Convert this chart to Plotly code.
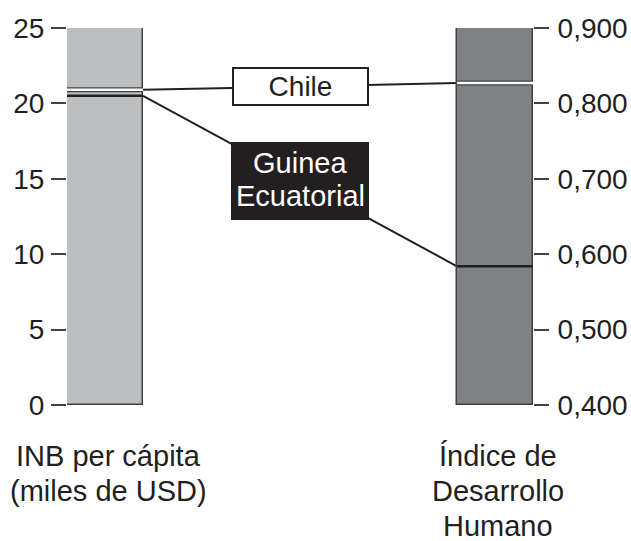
import plotly.graph_objects as go

# ---- data ----
countries = ["Chile", "Guinea Ecuatorial"]
inb = [20.9, 20.5]          # INB per cápita (miles de USD)
idh = [0.827, 0.584]        # Índice de Desarrollo Humano
left_range = [0, 25]
right_range = [0.4, 0.9]
left_ticks = [0, 5, 10, 15, 20, 25]
right_ticks = [0.4, 0.5, 0.6, 0.7, 0.8, 0.9]
left_label_lines = ["INB per cápita", "(miles de USD)"]
right_label_lines = ["Índice de", "Desarrollo", "Humano"]
guinea_lines = ["Guinea", "Ecuatorial"]

DARK = "#231f20"
FONT = "Liberation Sans, Arial, sans-serif"
w = 0.195  # bar width (x units)


def to_left(v):
    return (v - right_range[0]) / (right_range[1] - right_range[0]) * (left_range[1] - left_range[0]) + left_range[0]


fig = go.Figure()

# bars
fig.add_trace(go.Bar(x=[0], y=[left_range[1] - left_range[0]], base=[left_range[0]], width=w,
                     marker=dict(color="#bcbec0", line=dict(color="#414042", width=1.5)),
                     yaxis="y", hoverinfo="skip"))
fig.add_trace(go.Bar(x=[1], y=[right_range[1] - right_range[0]], base=[right_range[0]], width=w,
                     marker=dict(color="#808184", line=dict(color="#414042", width=1.5)),
                     yaxis="y2", hoverinfo="skip"))

# connecting lines
for i in range(len(countries)):
    fig.add_trace(go.Scatter(x=[w / 2, 1 - w / 2], y=[inb[i], to_left(idh[i])], mode="lines",
                             line=dict(color=DARK, width=2), yaxis="y", hoverinfo="skip"))

# marks inside bars: Chile (white with dark edges)
fig.add_trace(go.Scatter(x=[-w / 2, w / 2], y=[inb[0]] * 2, mode="lines",
                         line=dict(color="#414042", width=5), yaxis="y", hoverinfo="skip"))
fig.add_trace(go.Scatter(x=[-w / 2, w / 2], y=[inb[0]] * 2, mode="lines",
                         line=dict(color="white", width=2.5), yaxis="y", hoverinfo="skip"))
fig.add_trace(go.Scatter(x=[1 - w / 2, 1 + w / 2], y=[idh[0]] * 2, mode="lines",
                         line=dict(color="#414042", width=5), yaxis="y2", hoverinfo="skip"))
fig.add_trace(go.Scatter(x=[1 - w / 2, 1 + w / 2], y=[idh[0]] * 2, mode="lines",
                         line=dict(color="white", width=2.5), yaxis="y2", hoverinfo="skip"))
# Guinea Ecuatorial (dark)
fig.add_trace(go.Scatter(x=[-w / 2, w / 2], y=[inb[1]] * 2, mode="lines",
                         line=dict(color=DARK, width=2.5), yaxis="y", hoverinfo="skip"))
fig.add_trace(go.Scatter(x=[1 - w / 2, 1 + w / 2], y=[idh[1]] * 2, mode="lines",
                         line=dict(color=DARK, width=2.5), yaxis="y2", hoverinfo="skip"))

# labels on the lines
fig.add_annotation(x=0.5, y=(inb[0] + to_left(idh[0])) / 2, xref="x", yref="y", text=countries[0],
                   showarrow=False, bgcolor="white", bordercolor=DARK, borderwidth=2, borderpad=0,
                   width=133, height=35, font=dict(family=FONT, size=28, color=DARK))
gy = (inb[1] + to_left(idh[1])) / 2
fig.add_annotation(x=0.5, y=gy, xref="x", yref="y", text=" ",
                   showarrow=False, bgcolor=DARK, bordercolor=DARK, borderwidth=0, borderpad=0,
                   width=138, height=78, font=dict(family=FONT, size=28, color="white"))
for line_text, shift in zip(guinea_lines, [18, -15]):
    fig.add_annotation(x=0.5, y=gy, xref="x", yref="y", text=line_text, yshift=shift,
                       showarrow=False, font=dict(family=FONT, size=29, color="white"))

# axis titles below bars (one annotation per line)
PLOT_TOP, PLOT_BOTTOM = 28, 405
def paper_y(px):
    return (PLOT_BOTTOM - px) / (PLOT_BOTTOM - PLOT_TOP)

for lines, xpos, top in [(left_label_lines, 0.009, 438), (right_label_lines, 1.008, 438)]:
    for k, line_text in enumerate(lines):
        fig.add_annotation(x=xpos, y=paper_y(top + 35 * k), xref="x", yref="paper", text=line_text,
                           showarrow=False, yanchor="top", xanchor="center",
                           font=dict(family=FONT, size=29, color=DARK))

fig.update_layout(
    width=631, height=541,
    margin=dict(l=67, r=98, t=28, b=136, autoexpand=False),
    paper_bgcolor="white", plot_bgcolor="white",
    showlegend=False, separators=",.",
    bargap=0,
    font=dict(family=FONT, size=28, color=DARK),
    xaxis=dict(range=[-w / 2, 1 + w / 2], showticklabels=False, showgrid=False, zeroline=False,
               showline=False, ticks="", automargin=False),
    yaxis=dict(range=left_range, tickvals=left_ticks, ticks="outside", ticklen=15, tickwidth=1.5,
               tickcolor="#414042", showgrid=False, zeroline=False, showline=False, automargin=False,
               ticklabelstandoff=1, tickfont=dict(family=FONT, size=28, color=DARK)),
    yaxis2=dict(range=right_range, tickvals=right_ticks, tickformat=".3f", overlaying="y", side="right",
                ticks="outside", ticklen=15, tickwidth=1.5, tickcolor="#414042", showgrid=False,
                zeroline=False, showline=False, automargin=False, ticklabelstandoff=3,
                tickfont=dict(family=FONT, size=28, color=DARK)),
)

fig.write_html("out.html", config={"displayModeBar": False},
               post_script="document.body.style.margin='0';document.body.style.overflow='hidden';")
